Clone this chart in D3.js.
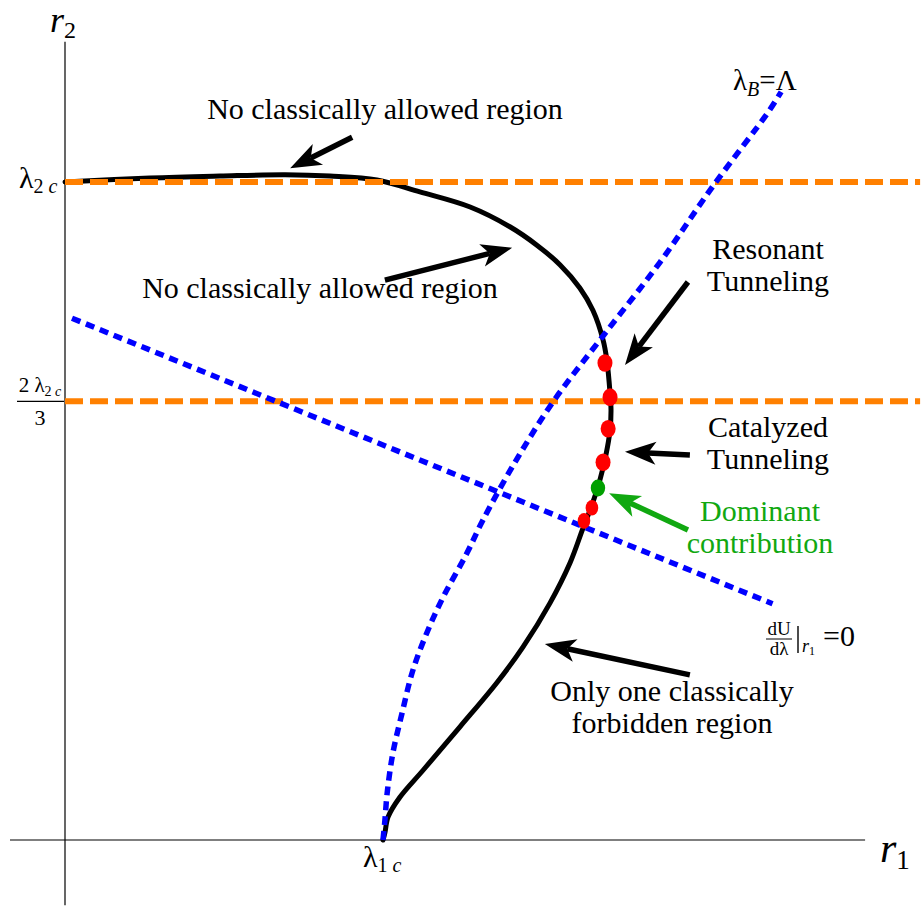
<!DOCTYPE html>
<html><head><meta charset="utf-8">
<script src="https://cdn.jsdelivr.net/npm/d3@7"></script>
<style>
html,body{margin:0;padding:0;background:#fff;}
</style></head>
<body>
<svg id="chart" width="923" height="909"></svg>
<script>
// ---- data (units: r1 in λ1c, r2 in λ2c) ----
const boundaryCurve = [
 [0.000,1.000],[0.267,1.006],[0.487,1.009],[0.692,1.011],[0.833,1.009],[0.981,1.003],
 [1.116,0.985],[1.274,0.962],[1.399,0.932],[1.484,0.904],[1.557,0.874],[1.619,0.839],
 [1.660,0.805],[1.692,0.760],[1.704,0.729],[1.714,0.679],[1.717,0.653],[1.714,0.623],
 [1.701,0.585],[1.682,0.547],[1.657,0.509],[1.629,0.474],[1.588,0.421],[1.525,0.360],
 [1.440,0.293],[1.358,0.239],[1.242,0.172],[1.126,0.106],[1.053,0.065],[1.016,0.035],
 [1.006,0.011],[1.000,0.000]
];
const lambdaBCurve = [
 [1.000,0.000],[1.006,0.030],[1.013,0.071],[1.031,0.132],[1.060,0.193],[1.094,0.258],
 [1.138,0.315],[1.189,0.369],[1.264,0.436],[1.314,0.486],[1.415,0.574],[1.535,0.666],
 [1.692,0.766],[1.871,0.878],[2.038,0.994],[2.211,1.106],[2.252,1.137]
];
const dUdLambdaLine = [[0.022,0.793],[2.225,0.359]];
const horizontalLevels = [1, 2/3];          // λ2c and 2λ2c/3
const levelExtent = [0, 2.689];
const redDots = [[1.698,0.725],[1.714,0.673],[1.708,0.625],[1.692,0.574],[1.657,0.505],[1.632,0.485]];
const redDotSmall = [false,false,false,false,true,true];
const greenDot = [1.676,0.535];
const xTicks = [1];                          // λ1c
const yTicks = [1, 2/3];                     // λ2c, 2λ2c/3
const xAxisExtent = [-0.173, 2.516];
const yAxisExtent = [-0.099, 1.213];
const arrows = [
 {from:[0.903,1.068], to:[0.708,1.021], color:"#000"},
 {from:[1.006,0.851], to:[1.406,0.900], color:"#000"},
 {from:[1.959,0.848], to:[1.761,0.722], color:"#000"},
 {from:[1.965,0.585], to:[1.761,0.590], color:"#000"},
 {from:[1.959,0.471], to:[1.711,0.527], color:"#11a811"},
 {from:[1.965,0.251], to:[1.509,0.298], color:"#000"}
];
const notes = [
 {lines:["No classically allowed region"], at:[385,119], color:"#000"},
 {lines:["No classically allowed region"], at:[320,298], color:"#000"},
 {lines:["Resonant","Tunneling"], at:[768,259], color:"#000"},
 {lines:["Catalyzed","Tunneling"], at:[768,437], color:"#000"},
 {lines:["Dominant","contribution"], at:[760,521], color:"#11a811"},
 {lines:["Only one classically","forbidden region"], at:[672,701], color:"#000"}
];

// ---- scales ----
const x = d3.scaleLinear().domain([0,1]).range([65,383]);
const y = d3.scaleLinear().domain([0,1]).range([840,182]);
const svg = d3.select("#chart");
const FF = '"Liberation Serif"';
function txt(sel){ return sel.append("text").style("font-family",FF).attr("fill","#000"); }

// axes
svg.append("line").attr("x1",x(xAxisExtent[0])).attr("x2",x(xAxisExtent[1]))
  .attr("y1",y(0)).attr("y2",y(0)).attr("stroke","#000").attr("stroke-width",1.2);
svg.append("line").attr("x1",x(0)).attr("x2",x(0))
  .attr("y1",y(yAxisExtent[0])).attr("y2",y(yAxisExtent[1])).attr("stroke","#000").attr("stroke-width",1.2);

const line = d3.line().x(d=>x(d[0])).y(d=>y(d[1])).curve(d3.curveCatmullRom.alpha(0.5));

// black boundary curve
svg.append("path").datum(boundaryCurve).attr("d",line)
  .attr("fill","none").attr("stroke","#000").attr("stroke-width",5).attr("stroke-linecap","round");

// orange dashed levels
svg.selectAll(".lvl").data(horizontalLevels).enter().append("line")
  .attr("x1",x(levelExtent[0])).attr("x2",x(levelExtent[1]))
  .attr("y1",d=>y(d)).attr("y2",d=>y(d))
  .attr("stroke","#ff8000").attr("stroke-width",6).attr("stroke-dasharray","18,7");

// blue dotted curves
svg.append("path").datum(lambdaBCurve).attr("d",line)
  .attr("fill","none").attr("stroke","#0000ff").attr("stroke-width",5.5).attr("stroke-dasharray","9,6");
svg.append("path").datum(dUdLambdaLine).attr("d",d3.line().x(d=>x(d[0])).y(d=>y(d[1])))
  .attr("fill","none").attr("stroke","#0000ff").attr("stroke-width",5.5).attr("stroke-dasharray","9,6");

// dots
svg.selectAll(".rd").data(redDots).enter().append("ellipse")
  .attr("cx",d=>x(d[0])).attr("cy",d=>y(d[1]))
  .attr("rx",(d,i)=>redDotSmall[i]?6.3:7.5).attr("ry",(d,i)=>redDotSmall[i]?7.8:8.8)
  .attr("fill","#ff0000");
svg.append("ellipse").attr("cx",x(greenDot[0])).attr("cy",y(greenDot[1]))
  .attr("rx",7.2).attr("ry",8.5).attr("fill","#00a000");

// arrows
function drawArrow(a){
  const x1=x(a.from[0]), y1=y(a.from[1]), x2=x(a.to[0]), y2=y(a.to[1]);
  const dx=x2-x1, dy=y2-y1, len=Math.hypot(dx,dy);
  const ux=dx/len, uy=dy/len, nx=-uy, ny=ux;
  const L=31, W=11.5, N=8;
  const bx=x2-ux*L, by=y2-uy*L;
  const mx=x2-ux*(L-N), my=y2-uy*(L-N);
  svg.append("line").attr("x1",x1).attr("y1",y1).attr("x2",mx).attr("y2",my)
    .attr("stroke",a.color).attr("stroke-width",5.5);
  svg.append("path").attr("d",`M${x2},${y2}L${bx+nx*W},${by+ny*W}L${mx},${my}L${bx-nx*W},${by-ny*W}Z`)
    .attr("fill",a.color);
}
arrows.forEach(drawArrow);

// notes
notes.forEach(n=>{
  const t=txt(svg).attr("text-anchor","middle").attr("font-size",30).attr("fill",n.color);
  n.lines.forEach((l,i)=>t.append("tspan").attr("x",n.at[0]).attr("y",n.at[1]+i*32).text(l));
});

// axis labels
const r2=txt(svg).attr("x",50).attr("y",32).attr("font-size",36);
r2.append("tspan").attr("font-style","italic").text("r");
r2.append("tspan").attr("font-size",24).attr("dy",6).text("2");
const r1=txt(svg).attr("x",880).attr("y",862).attr("font-size",42);
r1.append("tspan").attr("font-style","italic").text("r");
r1.append("tspan").attr("font-size",27).attr("dy",7).text("1");

// x tick label λ1c
xTicks.forEach(v=>{
  const t=txt(svg).attr("x",x(v)-20).attr("y",y(0)+27).attr("font-size",30);
  t.append("tspan").text("λ");
  t.append("tspan").attr("font-size",20).attr("dy",5).text("1 ");
  t.append("tspan").attr("font-size",20).attr("font-style","italic").text("c");
});
// y tick labels
{
  const t=txt(svg).attr("x",19).attr("y",y(yTicks[0])+6).attr("font-size",30);
  t.append("tspan").text("λ");
  t.append("tspan").attr("font-size",20).attr("dy",5).text("2 ");
  t.append("tspan").attr("font-size",20).attr("font-style","italic").text("c");
  const yy=y(yTicks[1]);
  const n=txt(svg).attr("x",40).attr("y",yy-9).attr("font-size",21).attr("text-anchor","middle");
  n.append("tspan").text("2 λ");
  n.append("tspan").attr("font-size",14).attr("dy",4).text("2 ");
  n.append("tspan").attr("font-size",14).attr("font-style","italic").text("c");
  svg.append("line").attr("x1",17).attr("x2",64).attr("y1",yy).attr("y2",yy).attr("stroke","#000").attr("stroke-width",1.3);
  txt(svg).attr("x",40).attr("y",yy+24).attr("font-size",22).attr("text-anchor","middle").text("3");
}
// λB = Λ
{
  const t=txt(svg).attr("x",733).attr("y",90).attr("font-size",29);
  t.append("tspan").text("λ");
  t.append("tspan").attr("font-size",20).attr("font-style","italic").attr("dy",6).text("B");
  t.append("tspan").attr("dy",-6).text("=Λ");
}
// dU/dλ |r1 = 0
{
  txt(svg).attr("x",779).attr("y",635).attr("font-size",19).attr("text-anchor","middle").text("dU");
  svg.append("line").attr("x1",766).attr("x2",792).attr("y1",639).attr("y2",639).attr("stroke","#000").attr("stroke-width",1);
  txt(svg).attr("x",779).attr("y",655).attr("font-size",19).attr("text-anchor","middle").text("dλ");
  svg.append("line").attr("x1",798).attr("x2",798).attr("y1",626).attr("y2",653).attr("stroke","#000").attr("stroke-width",1.4);
  const s=txt(svg).attr("x",802).attr("y",652).attr("font-size",18);
  s.append("tspan").attr("font-style","italic").text("r");
  s.append("tspan").attr("font-size",12).attr("dy",3).text("1");
  txt(svg).attr("x",823).attr("y",646).attr("font-size",30).text("=0");
}
</script>
</body></html>
